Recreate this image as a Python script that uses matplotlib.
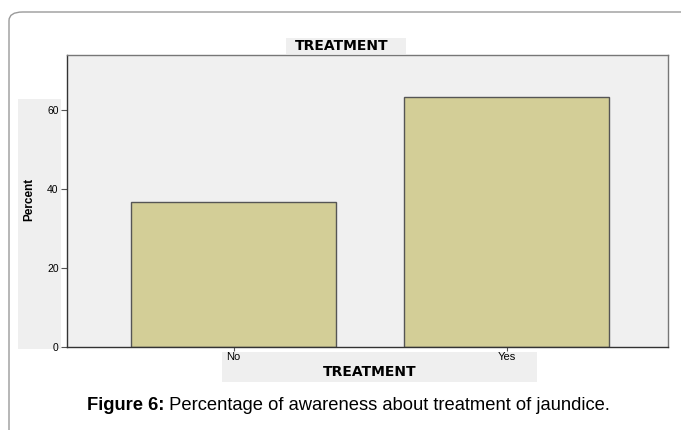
import matplotlib.pyplot as plt
from matplotlib.patches import FancyBboxPatch, Rectangle

categories = ["No", "Yes"]
percent = [36.7, 63.3]
yticks = [0, 20, 40, 60]
title = "TREATMENT"
xlabel = "TREATMENT"
ylabel = "Percent"
caption_bold = "Figure 6:"
caption_rest = " Percentage of awareness about treatment of jaundice."

W, H = 681, 430
plt.rcParams['font.family'] = ['Liberation Sans', 'DejaVu Sans']

fig = plt.figure(figsize=(W / 100, H / 100), dpi=100)


def px(x, y, w, h):
    # pixel box (top-left origin) -> figure fraction
    return [x / W, 1 - (y + h) / H, w / W, h / H]


# outer rounded frame of the figure panel
frame = FancyBboxPatch((9 / W, -0.2), 1.2, (H - 12) / H + 0.2,
                       boxstyle="round,pad=0,rounding_size=0.02",
                       transform=fig.transFigure, fill=False,
                       edgecolor="#9a9a9a", linewidth=1.0, zorder=-2)
fig.patches.append(frame)

# gray label backgrounds
for (x, y, w, h) in [(286, 38, 120, 16), (18, 99, 43, 250), (222, 352, 315, 30)]:
    b = px(x, y, w, h)
    fig.patches.append(Rectangle((b[0], b[1]), b[2], b[3], transform=fig.transFigure,
                                 facecolor="#efefef", edgecolor="none", zorder=-1))

ax = fig.add_axes(px(67, 55, 601, 292))
ax.set_facecolor("#f0f0f0")
ax.bar(range(len(categories)), percent, width=0.75, color="#d3ce97",
       edgecolor="#555555", linewidth=1.0)
ax.set_xlim(-0.61, 1.59)
ax.set_ylim(0, 73.9)
ax.set_yticks(yticks)
ax.set_xticks(range(len(categories)))
ax.set_xticklabels(categories, fontsize=8)
ax.tick_params(axis='y', labelsize=7.5, length=4.5, direction='out', color="#555555", pad=1.5)
ax.tick_params(axis='x', length=3, direction='out', color="#555555", pad=0.5)
for s in ["top", "right"]:
    ax.spines[s].set_color("#777777")
for s in ["left", "bottom"]:
    ax.spines[s].set_color("#333333")
for s in ax.spines.values():
    s.set_linewidth(1.0)

fig.text(29 / W, 1 - 199 / H, ylabel, fontsize=8.5, fontweight='bold',
         rotation=90, ha='center', va='center')
fig.text(370 / W, 1 - 372 / H, xlabel, fontsize=10, fontweight='bold',
         family='DejaVu Sans', ha='center', va='center')
fig.text(342 / W, 1 - 46 / H, title, fontsize=10, fontweight='bold',
         family='DejaVu Sans', ha='center', va='center')

# caption with bold lead-in
t1 = fig.text(87 / W, 1 - 405 / H, caption_bold, fontsize=13.2, fontweight='bold',
              va='center', ha='left')
fig.canvas.draw()
bb = t1.get_window_extent()
fig.text(bb.x1 / W, 1 - 405 / H, caption_rest, fontsize=13.2, va='center', ha='left')

fig.savefig("out.png", dpi=100)
